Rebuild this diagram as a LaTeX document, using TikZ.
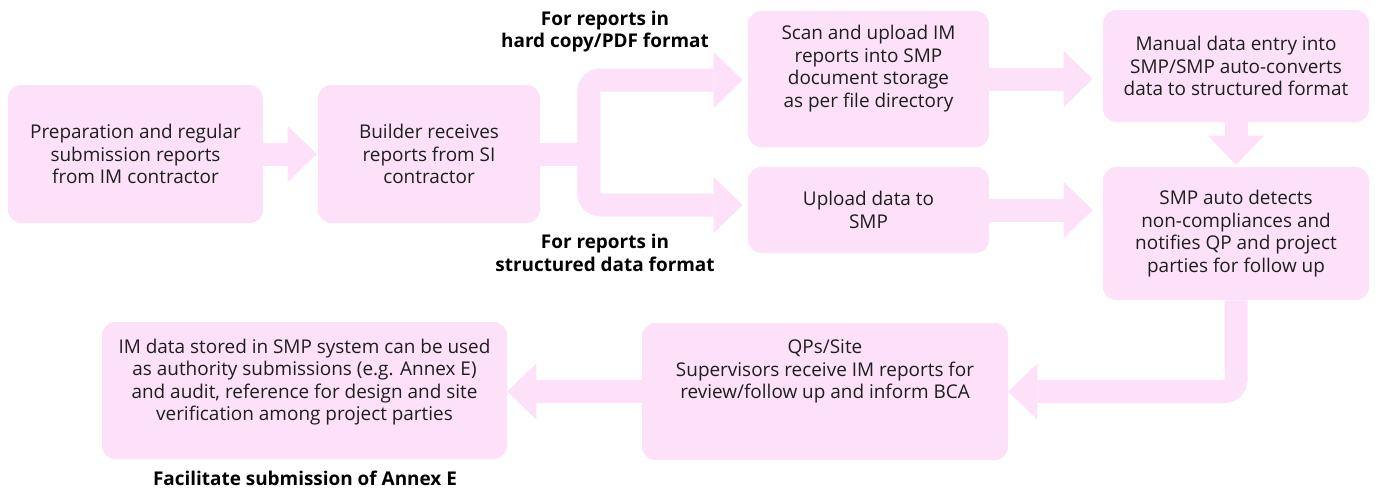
\documentclass[tikz,border=0pt]{standalone}
\usepackage{fontspec}
\setmainfont{Open Sans}
\usetikzlibrary{arrows.meta, positioning}
\definecolor{blush}{HTML}{FCE1F8}
\definecolor{ink}{HTML}{1E1E1E}
\tikzset{
  font=\fontsize{14.2}{16.9}\selectfont,
  %
  stepbox/.style={fill=blush, rounded corners=10pt, align=center, text=ink, inner sep=0pt},
  wh/.style 2 args={minimum width=#1*0.75pt, minimum height=#2*0.75pt},
  boxtext/.style={align=center, text=ink, inner sep=0pt},
  %
  duct/.style={draw=blush, line width=17.25pt},
  pipe/.style={duct, -{Triangle[length=21.75pt, width=42pt, line width=0pt]}},
  %
  hint/.style={font=\fontsize{14.2}{16.9}\selectfont\bfseries, align=center, text=black},
}
\begin{document}
\begin{tikzpicture}[x=0.75pt, y=-0.75pt]
  \useasboundingbox (0,0) rectangle (1375,497);

  % --- top row -------------------------------------------------------------
  \node[stepbox, wh={255}{138}] (prep) at (135.5,154)
    {Preparation and regular\\submission reports\\from IM contractor};
  \node[stepbox, wh={222}{138}] (build) at (429,154)
    {Builder receives\\reports from SI\\contractor};

  \node[stepbox, wh={241}{136}] (scan) at (868.5,79) {};
  \node[boxtext] (scantext) at ([yshift=7.9pt]scan.center)
    {Scan and upload IM\\reports into SMP\\document storage\\as per file directory};
  \node[stepbox, wh={241}{86}] (upload) at (868.5,210) {Upload data to\\SMP};

  \node[stepbox, wh={266}{112}] (manual) at (1236,66)
    {Manual data entry into\\SMP/SMP auto-converts\\data to structured format};
  \node[stepbox, wh={266}{133}] (smp) at (1236,233.5)
    {SMP auto detects\\non-compliances and\\notifies QP and project\\parties for follow up};

  % --- bottom row ----------------------------------------------------------
  \node[stepbox, wh={366}{137}] (qp) at (825,391.5) {};
  \node[boxtext] (qptext) at ([yshift=15pt]qp.center)
    {QPs/Site\\Supervisors receive IM reports for\\review/follow up and inform BCA};
  \node[stepbox, wh={405}{137}] (store) at (304.5,390.5) {};
  \node[boxtext] (storetext) at ([yshift=6.4pt]store.center)
    {IM data stored in SMP system can be used\\as authority submissions (e.g. Annex E)\\and audit, reference for design and site\\verification among project parties};

  % --- labels --------------------------------------------------------------
  \node[hint] (hardcopy) at (605,31.5) {For reports in\\hard copy/PDF format};
  \node[hint] (structured) at (605,253) {For reports in\\structured data format};
  \node[hint] (annex) at (305,478) {Facilitate submission of Annex E};

  % --- arrows --------------------------------------------------------------
  \draw[pipe, shorten >=0.75pt] (prep) -- (build);

  \path (build.east) ++(48.5,0) coordinate (fork);
  \draw[duct] (build.east) -- (fork);
  \draw[pipe, rounded corners=8.6pt, shorten >=3.75pt]
    (fork) |- ([yshift=-0.75pt]scan.west);
  \draw[pipe, rounded corners=8.6pt, shorten >=3.75pt]
    (fork) |- ([yshift=3.75pt]upload.west);

  \draw[pipe, shorten >=7.5pt] (scan.east) -- (scan.east -| manual.west);
  \draw[pipe, shorten >=7.5pt] (upload.east) -- (upload.east -| smp.west);
  \draw[pipe, shorten >=1.5pt] (manual) -- (smp);
  \draw[pipe, rounded corners=8.6pt] (smp.south) |- (qp.east);
  \draw[pipe] (qp.west) -- (qp.west -| store.east);

\end{tikzpicture}
\end{document}
